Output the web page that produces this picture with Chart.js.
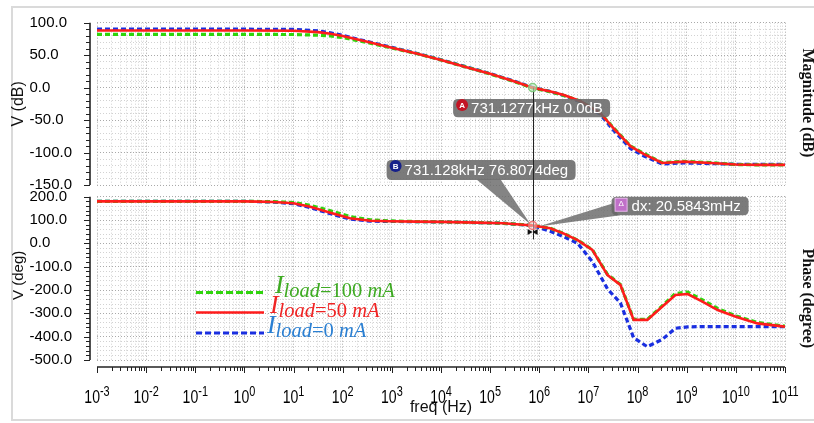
<!DOCTYPE html>
<html><head><meta charset="utf-8">
<script src="https://cdn.jsdelivr.net/npm/chart.js@4.4.1/dist/chart.umd.min.js"></script>
<style>
html,body{margin:0;padding:0;background:#fff;}
#wrap{position:relative;width:814px;height:423px;overflow:hidden;background:#fff;}
#wrap canvas{position:absolute;left:0;top:0;}
</style></head><body>
<div id="wrap"><canvas id="mag" width="814" height="423"></canvas><canvas id="ph" width="814" height="423"></canvas></div>
<script>
// ---------------- data ----------------
const xTickExponents = ['-3','-2','-1','0','1','2','3','4','5','6','7','8','9','10','11'];
const seriesLoads = ['100', '50', '0'];            // I_load in mA (green, red, blue)

const magFreq  = [1e-3, 1e0, 1e1, 3.16e1, 5.62e1, 1e2, 3.16e2, 1e3, 3.16e3, 1e4, 3.16e4, 1e5, 3.16e5, 7.31e5, 1.70e6, 3.16e6, 6.92e6, 1.74e7, 3.16e7, 7.24e7, 1.32e8, 3.16e8, 8.71e8, 3.16e9, 1e10, 3.16e10, 1e11];
const magGreen = [82, 82, 81.8, 80.8, 79.5, 77, 69.5, 61, 52.5, 42.5, 32, 21, 9, -0.5, -6.5, -12, -21, -39, -61, -90, -101, -115.5, -113.5, -115.5, -118.5, -119, -119];
const magRed   = [88, 88, 87.7, 85.5, 83, 79.5, 70.5, 61.5, 52.5, 42.5, 31.8, 21.2, 9.3, 0, -6, -11.5, -21, -39, -61.5, -90.5, -102, -116, -114, -116, -118.5, -119, -119];
const magBlue  = [90, 90, 89.7, 87.5, 84.5, 80.5, 71, 62, 53, 43, 32.3, 21.6, 9.7, 0.3, -6, -12, -22, -41, -65, -94, -105, -117.5, -116, -117, -118, -118, -118];

const phFreq  = [1e-3, 1e0, 2e0, 4e0, 1e1, 2.19e1, 5.62e1, 1.41e2, 3.63e2, 9.33e2, 3.16e3, 1e4, 5.5e4, 1.86e5, 7.31e5, 1.66e6, 3.09e6, 6.03e6, 1.2e7, 2.45e7, 4.47e7, 8.32e7, 1.58e8, 3.16e8, 5.89e8, 1.05e9, 2e9, 4.27e9, 1e10, 2.75e10, 1e11];
const phGreen = [180, 180, 179.5, 178.5, 175, 163, 140, 115, 101, 96, 93.5, 92, 89, 86, 77, 65, 43, 14, -27, -134, -176, -326, -326, -268, -215, -209, -240, -279, -311, -339, -355];
const phRed   = [180, 180, 179, 177, 172, 157, 131, 107.5, 97, 95, 93, 92, 89, 86, 76.8, 65, 43, 14, -28, -136, -178, -328, -328, -272, -221, -217, -248, -286, -315, -343, -357];
const phBlue  = [180, 180, 179, 176.5, 170, 153, 127, 104, 95, 94, 93, 92, 89, 86, 76, 52, 29, 0, -78, -196, -255, -405, -443, -412, -364, -358, -357, -357, -357, -357, -357];

const markerFreq = 731.128e3;   // cursor A/B frequency (Hz)
const markerMag = 0.0;          // dB
const markerPhase = 76.8074;    // deg
const labelA = '731.1277kHz 0.0dB';
const labelB = '731.128kHz 76.8074deg';
const labelD = 'dx: 20.5843mHz';

// ---------------- styling helpers ----------------
const COL_G = '#2fd40c', COL_R = '#ff1c1c', COL_B = '#1a2fe0';
const FONT = '"Liberation Sans", Arial, sans-serif';
const AX_GAP = 7;

function pts(xs, ys) { return xs.map((x, i) => ({x, y: ys[i]})); }
function logTicks() {
  const t = [];
  for (let e = -3; e <= 10; e++) for (let k = 1; k <= 9; k++) t.push({value: k * Math.pow(10, e), major: k === 1});
  t.push({value: 1e11, major: true});
  return t;
}
function linTicks(min, max, step, majorStep) {
  const t = [];
  for (let v = min; v <= max; v += step) t.push({value: v, major: v % majorStep === 0});
  return t;
}
const gridColor = c => (c.tick && c.tick.major) ? '#a9a9a9' : '#d2d2d2';

function xScale() {
  return {
    type: 'logarithmic', min: 1e-3, max: 1e11,
    afterBuildTicks: s => { s.ticks = logTicks(); },
    afterFit: s => { s.height = 0; },
    ticks: {display: false, autoSkip: false},
    grid: {color: gridColor, lineWidth: 1, drawTicks: false},
    border: {display: false, dash: [1, 2]}
  };
}
function yScale(min, max, step, majorStep) {
  return {
    min, max,
    afterBuildTicks: s => { s.ticks = linTicks(min, max, step, majorStep); },
    afterFit: s => { s.width = 67.5; },
    ticks: {autoSkip: false, crossAlign: 'far', padding: 0, color: '#000',
            font: {family: FONT, size: 15},
            callback: v => (v % majorStep === 0) ? Number(v).toFixed(1) : ''},
    grid: {color: gridColor, lineWidth: 1, drawTicks: false},
    border: {display: false, dash: [1, 2]}
  };
}
function ds(label, data, color, dash, width, order) {
  return {label, data, borderColor: color, backgroundColor: color, borderWidth: width,
          borderDash: dash, pointRadius: 0, tension: 0, fill: false, order, borderCapStyle: 'butt'};
}

function drawYAxisDeco(chart) {
  const {ctx, chartArea: a} = chart; const ys = chart.scales.y;
  const sx = a.left - AX_GAP;
  ctx.save();
  ctx.strokeStyle = '#222';
  ctx.lineWidth = 1.6;
  ctx.beginPath(); ctx.moveTo(sx, a.top); ctx.lineTo(sx, a.bottom); ctx.stroke();
  ctx.lineWidth = 1;
  for (const t of ys.ticks) {
    const y = Math.round(ys.getPixelForValue(t.value)) + 0.5;
    ctx.beginPath(); ctx.moveTo(sx, y); ctx.lineTo(sx - (t.major ? 6 : 4), y); ctx.stroke();
  }
  ctx.restore();
}
function rotText(ctx, txt, x, y, ang, font, color) {
  ctx.save(); ctx.translate(x, y); ctx.rotate(ang);
  ctx.font = font; ctx.fillStyle = color; ctx.textAlign = 'center'; ctx.textBaseline = 'middle';
  ctx.fillText(txt, 0, 0); ctx.restore();
}

const magDeco = {
  id: 'magDeco',
  beforeDraw(chart) {
    const ctx = chart.ctx;
    ctx.save(); ctx.strokeStyle = '#dadada'; ctx.lineWidth = 2;
    ctx.strokeRect(12, 7, 840, 413); ctx.restore();
  },
  afterDraw(chart) {
    const {ctx, chartArea: a} = chart;
    drawYAxisDeco(chart);
    const cy = (a.top + a.bottom) / 2;
    rotText(ctx, 'V (dB)', 19, cy, -Math.PI / 2, '16px ' + FONT, '#111');
    rotText(ctx, 'Magnitude (dB)', 807, cy - 1, Math.PI / 2, 'bold 16px "Liberation Serif", serif', '#111');
  }
};

let magChart;
function roundRect(ctx, x, y, w, h, r) {
  ctx.beginPath();
  ctx.moveTo(x + r, y); ctx.lineTo(x + w - r, y); ctx.quadraticCurveTo(x + w, y, x + w, y + r);
  ctx.lineTo(x + w, y + h - r); ctx.quadraticCurveTo(x + w, y + h, x + w - r, y + h);
  ctx.lineTo(x + r, y + h); ctx.quadraticCurveTo(x, y + h, x, y + h - r);
  ctx.lineTo(x, y + r); ctx.quadraticCurveTo(x, y, x + r, y); ctx.closePath();
}

const phDeco = {
  id: 'phDeco',
  afterDraw(chart) {
    const {ctx, chartArea: a} = chart; const xs = chart.scales.x;
    drawYAxisDeco(chart);
    // x axis line + ticks
    const ay = a.bottom + AX_GAP;
    ctx.save();
    ctx.strokeStyle = '#222'; ctx.lineWidth = 1.6;
    ctx.beginPath(); ctx.moveTo(a.left, ay); ctx.lineTo(a.right, ay); ctx.stroke();
    ctx.lineWidth = 1;
    for (const t of xs.ticks) {
      const x = Math.round(xs.getPixelForValue(t.value)) + 0.5;
      ctx.beginPath(); ctx.moveTo(x, ay); ctx.lineTo(x, ay + (t.major ? 6 : 4)); ctx.stroke();
    }
    // x tick labels 10^n (slightly condensed like the reference)
    const SQ = 0.78;
    ctx.fillStyle = '#000'; ctx.textBaseline = 'alphabetic'; ctx.textAlign = 'left';
    const baseFont = '18px ' + FONT, supFont = '14px ' + FONT;
    for (const e of xTickExponents) {
      const x = xs.getPixelForValue(Math.pow(10, Number(e)));
      ctx.font = baseFont; const wb = ctx.measureText('10').width * SQ;
      ctx.font = supFont; const we = ctx.measureText(e).width * SQ;
      const sx = x - (wb + we) / 2;
      ctx.save(); ctx.translate(sx, ay + 36); ctx.scale(SQ, 1);
      ctx.font = baseFont; ctx.fillText('10', 0, 0); ctx.restore();
      ctx.save(); ctx.translate(sx + wb, ay + 29); ctx.scale(SQ, 1);
      ctx.font = supFont; ctx.fillText(e, 0, 0); ctx.restore();
    }
    ctx.restore();
    // titles
    const cy = (a.top + a.bottom) / 2;
    rotText(ctx, 'V (deg)', 19, cy - 3, -Math.PI / 2, '15px ' + FONT, '#111');
    rotText(ctx, 'Phase (degree)', 807, cy + 20, Math.PI / 2, 'bold 16px "Liberation Serif", serif', '#111');
    ctx.save(); ctx.font = '16px ' + FONT; ctx.fillStyle = '#111'; ctx.textAlign = 'center'; ctx.textBaseline = 'middle';
    ctx.fillText('freq (Hz)', (a.left + a.right) / 2, ay + 41); ctx.restore();

    // legend
    const leg = [
      {load: seriesLoads[0], txt: '#3eab22', line: COL_G, dash: [7, 3], w: 3, y: 292.5, ix: 275},
      {load: seriesLoads[1], txt: '#f02424', line: COL_R, dash: [], w: 2.6, y: 312.5, ix: 270},
      {load: seriesLoads[2], txt: '#2a7fd2', line: COL_B, dash: [6, 3], w: 3, y: 333, ix: 267}
    ];
    ctx.save();
    for (const it of leg) {
      ctx.strokeStyle = it.line; ctx.lineWidth = it.w; ctx.setLineDash(it.dash);
      ctx.beginPath(); ctx.moveTo(196, it.y); ctx.lineTo(264, it.y); ctx.stroke();
      ctx.setLineDash([]);
      ctx.fillStyle = it.txt; ctx.textBaseline = 'alphabetic'; ctx.textAlign = 'left';
      ctx.font = 'italic 26px "Liberation Serif", serif';
      ctx.fillText('I', it.ix, it.y);
      let x = it.ix + 8.5; const by = it.y + 4;
      const segs = [['load', true], ['=' + it.load + ' ', false], ['mA', true]];
      for (const [s, itl] of segs) {
        ctx.font = (itl ? 'italic ' : '') + '20.5px "Liberation Serif", serif';
        ctx.fillText(s, x, by); x += ctx.measureText(s).width;
      }
    }
    ctx.restore();

    // cursors / annotations
    if (!magChart) return;
    const px = xs.getPixelForValue(markerFreq);
    const yA = magChart.scales.y.getPixelForValue(markerMag);
    const yB = chart.scales.y.getPixelForValue(markerPhase);
    ctx.save();
    ctx.fillStyle = 'rgba(105,105,105,0.82)';
    ctx.beginPath(); ctx.moveTo(px - 56, yB - 46); ctx.lineTo(px - 32, yB - 46); ctx.lineTo(px - 2, yB - 1); ctx.closePath(); ctx.fill();
    ctx.beginPath(); ctx.moveTo(px + 80, yB - 22); ctx.lineTo(px + 86, yB - 10); ctx.lineTo(px + 6, yB + 1); ctx.closePath(); ctx.fill();
    const boxes = [
      {x: px - 79.5, y: yA + 11.3, w: 157, h: 18.4, t: labelA, icon: 'A'},
      {x: px - 146, y: yB - 65.5, w: 189, h: 20, t: labelB, icon: 'B'},
      {x: px + 79, y: yB - 28.7, w: 137, h: 18.5, t: labelD, icon: 'D'}
    ];
    for (const b of boxes) {
      ctx.fillStyle = 'rgba(105,105,105,0.88)';
      roundRect(ctx, b.x, b.y, b.w, b.h, 5); ctx.fill();
      if (b.icon === 'D') {
        ctx.fillStyle = '#c070c8'; ctx.fillRect(b.x + 3.5, b.y + 1.5, 12, 13);
        ctx.strokeStyle = '#e8b8ec'; ctx.lineWidth = 1; ctx.strokeRect(b.x + 3.5, b.y + 1.5, 12, 13);
        ctx.fillStyle = '#fff'; ctx.font = '8px ' + FONT; ctx.textAlign = 'center'; ctx.textBaseline = 'middle';
        ctx.fillText('\u0394', b.x + 9.5, b.y + 7.5);
      } else {
        ctx.fillStyle = b.icon === 'A' ? '#c41424' : '#16208a';
        ctx.beginPath(); ctx.arc(b.x + 9, b.y + 6, 6, 0, Math.PI * 2); ctx.fill();
        ctx.fillStyle = '#fff'; ctx.font = 'bold 8px ' + FONT; ctx.textAlign = 'center'; ctx.textBaseline = 'middle';
        ctx.fillText(b.icon, b.x + 9, b.y + 6.5);
      }
      ctx.fillStyle = '#fff'; ctx.font = '15px ' + FONT; ctx.textAlign = 'left'; ctx.textBaseline = 'middle';
      ctx.fillText(b.t, b.x + (b.icon === 'D' ? 20 : 18), b.y + b.h / 2 + 1);
    }
    ctx.strokeStyle = '#222'; ctx.lineWidth = 1;
    ctx.beginPath(); ctx.moveTo(Math.round(px) + 0.5, yA); ctx.lineTo(Math.round(px) + 0.5, yB + 14); ctx.stroke();
    ctx.lineWidth = 1.5;
    ctx.strokeStyle = 'rgba(120,200,120,0.9)'; ctx.fillStyle = 'rgba(200,240,200,0.6)';
    ctx.beginPath(); ctx.arc(px, yA, 4, 0, Math.PI * 2); ctx.fill(); ctx.stroke();
    ctx.strokeStyle = 'rgba(240,110,110,0.9)'; ctx.fillStyle = 'rgba(255,210,210,0.5)';
    ctx.beginPath(); ctx.arc(px, yB, 4, 0, Math.PI * 2); ctx.fill(); ctx.stroke();
    ctx.fillStyle = '#111';
    const by2 = yB + 6.5;
    ctx.beginPath(); ctx.moveTo(px - 5, by2 - 3); ctx.lineTo(px - 5, by2 + 3); ctx.lineTo(px, by2); ctx.closePath(); ctx.fill();
    ctx.beginPath(); ctx.moveTo(px + 5, by2 - 3); ctx.lineTo(px + 5, by2 + 3); ctx.lineTo(px, by2); ctx.closePath(); ctx.fill();
    ctx.restore();
  }
};

const common = {
  responsive: false, animation: false, devicePixelRatio: 1,
  plugins: {legend: {display: false}, tooltip: {enabled: false}}
};

magChart = new Chart(document.getElementById('mag'), {
  type: 'line',
  data: {datasets: [
    ds('I_load=0 mA', pts(magFreq, magBlue), COL_B, [5, 3], 3.2, 2),
    ds('I_load=100 mA', pts(magFreq, magGreen), COL_G, [5, 3], 3.2, 1),
    ds('I_load=50 mA', pts(magFreq, magRed), COL_R, [], 2.6, 0)
  ]},
  options: Object.assign({}, common, {
    layout: {padding: {left: 29.5, right: 29, top: 22.7, bottom: 238}},
    scales: {x: xScale(), y: yScale(-150, 100, 10, 50)}
  }),
  plugins: [magDeco]
});

new Chart(document.getElementById('ph'), {
  type: 'line',
  data: {datasets: [
    ds('I_load=0 mA', pts(phFreq, phBlue), COL_B, [5, 3], 3.2, 2),
    ds('I_load=100 mA', pts(phFreq, phGreen), COL_G, [5, 3], 3.2, 1),
    ds('I_load=50 mA', pts(phFreq, phRed), COL_R, [], 2.6, 0)
  ]},
  options: Object.assign({}, common, {
    layout: {padding: {left: 29.5, right: 29, top: 196.7, bottom: 63}},
    scales: {x: xScale(), y: yScale(-500, 200, 20, 100)}
  }),
  plugins: [phDeco]
});
</script>
</body></html>
